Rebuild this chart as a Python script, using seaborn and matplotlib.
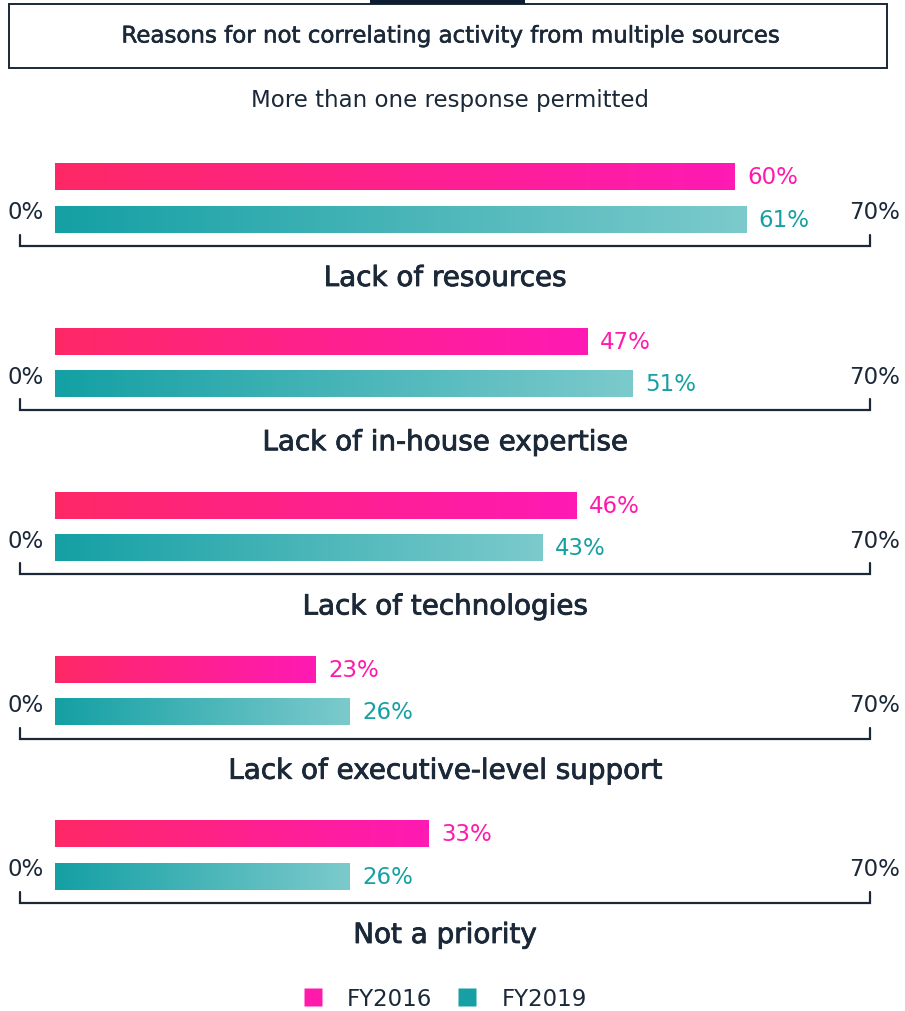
import numpy as np
import pandas as pd
import matplotlib
matplotlib.use("Agg")
import matplotlib.pyplot as plt
import matplotlib.transforms as mtransforms
import matplotlib.patheffects as pe
from matplotlib.colors import LinearSegmentedColormap
from matplotlib.patches import Rectangle
from matplotlib.lines import Line2D
import seaborn as sns

# ---- data ----
categories = [
    "Lack of resources",
    "Lack of in-house expertise",
    "Lack of technologies",
    "Lack of executive-level support",
    "Not a priority",
]
fy2016 = [60, 47, 46, 23, 33]
fy2019 = [61, 51, 43, 26, 26]
years = ["FY2016", "FY2019"]
scale_labels = ["0%", "70%"]
title = "Reasons for not correlating activity from multiple sources"
subtitle = "More than one response permitted"

# ---- style ----
NAVY = "#1b2838"
PINK = "#ff1aab"
TEAL = "#17a0a3"
pink_cmap = LinearSegmentedColormap.from_list("pink", ["#fe2866", "#ff1ab4"])
teal_cmap = LinearSegmentedColormap.from_list("teal", ["#14a0a4", "#7ccacc"])

sns.set_theme(style="white")
plt.rcParams["font.family"] = ["DejaVu Sans"]

df = pd.DataFrame({
    "reason": categories * 2,
    "value": fy2016 + fy2019,
    "year": [years[0]] * len(categories) + [years[1]] * len(categories),
})

fig = plt.figure(figsize=(9.05, 10.12), dpi=100)
ax = fig.add_axes([0, 0, 1, 1])

sns.barplot(
    data=df, y="reason", x="value", hue="year", orient="h",
    order=categories, hue_order=years,
    palette=[PINK, TEAL], width=0.512, gap=0.358,
    legend=False, ax=ax, edgecolor="none",
)

px_per_unit = 11.33
x_left = -55 / px_per_unit
x_right = 850 / px_per_unit
y_top = -199 / 164.25
y_bottom = (1012 - 199) / 164.25

# gradient fills over each bar
grad = np.linspace(0, 1, 256).reshape(1, -1)
for cont, cmap in zip(ax.containers, [pink_cmap, teal_cmap]):
    for bar in cont:
        x0, y0 = bar.get_x(), bar.get_y()
        w, h = bar.get_width(), bar.get_height()
        ax.imshow(grad, cmap=cmap, aspect="auto",
                  extent=[x0, x0 + w, y0 + h, y0], zorder=3,
                  interpolation="bicubic")

# value labels
for cont, col, vals in zip(ax.containers, [PINK, TEAL], [fy2016, fy2019]):
    ax.bar_label(cont, labels=[f"{v}%" for v in vals], padding=9,
                 color=col, fontsize=16.5, zorder=5)

ax.set_xlim(x_left, x_right)
ax.set_ylim(y_bottom, y_top)
ax.axis("off")

# scale brackets and category titles
trans = mtransforms.blended_transform_factory(ax.transAxes, ax.transData)
bx0, bx1 = 20 / 905, 870 / 905
medium = [pe.withStroke(linewidth=0.6, foreground=NAVY)]
for i, cat in enumerate(categories):
    yb = i + 0.292
    yt = i + 0.225
    ax.plot([bx0, bx0, bx1, bx1], [yt, yb, yb, yt], color=NAVY, lw=1.6,
            transform=trans, solid_joinstyle="miter", clip_on=False)
    ax.text(26 / 905, i + 0.085, scale_labels[0], transform=trans,
            ha="center", va="center", fontsize=16.5, color=NAVY)
    ax.text(875 / 905, i + 0.085, scale_labels[1], transform=trans,
            ha="center", va="center", fontsize=16.5, color=NAVY)
    ax.text(445 / 905, i + 0.487, cat, transform=trans,
            ha="center", va="center", fontsize=20, color=NAVY,
            path_effects=medium)

# title box with tab
fig.patches.append(Rectangle((9 / 905, 1 - 69 / 1012), 878 / 905, 64 / 1012,
                             transform=fig.transFigure, fill=False,
                             edgecolor=NAVY, lw=1.4))
fig.patches.append(Rectangle((370 / 905, 1 - 5 / 1012), 155 / 905, 5 / 1012,
                             transform=fig.transFigure, facecolor="#0e1e32",
                             edgecolor="none"))
fig.text(450 / 905, 1 - 37 / 1012, title, ha="center", va="center",
         fontsize=16.5, color=NAVY,
         path_effects=[pe.withStroke(linewidth=0.4, foreground=NAVY)])
fig.text(450 / 905, 1 - 100 / 1012, subtitle, ha="center", va="center",
         fontsize=16.5, color=NAVY)

# legend
handles = [Line2D([0], [0], marker="s", linestyle="none", markersize=13,
                  markerfacecolor=c, markeredgecolor="none")
           for c in [PINK, TEAL]]
fig.legend(handles, years, loc="center", bbox_to_anchor=(444 / 905, 12 / 1012),
           ncol=2, frameon=False, fontsize=16.5, labelcolor=NAVY,
           handletextpad=1.0, columnspacing=1.0, handlelength=1.0)

fig.savefig("out.png", dpi=100, facecolor="white")
